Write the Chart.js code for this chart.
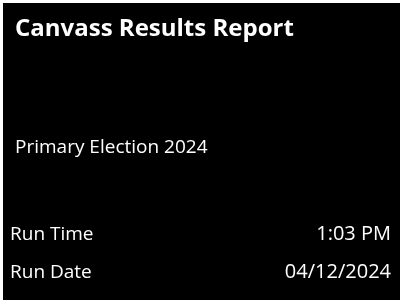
<!DOCTYPE html>
<html>
<head>
<meta charset="utf-8">
<script src="https://cdn.jsdelivr.net/npm/chart.js@4"></script>
<style>
  html, body { margin: 0; padding: 0; background: #fff; }
  #wrap { position: absolute; left: 3px; top: 3px; width: 397px; height: 297px; background: #000; }
</style>
</head>
<body>
<div id="wrap"><canvas id="report"></canvas></div>
<script>
// Report text
const reportTitle = "Canvass Results Report";
const electionName = "Primary Election 2024";
const rowLabels = ["Run Time", "Run Date"];
const rowValues = ["1:03 PM", "04/12/2024"];

const fontFamily = "'Open Sans', 'Noto Sans', sans-serif";

// Draws the election name and the run rows below the title
const reportText = {
    id: "reportText",
    afterDraw(chart) {
        const ctx = chart.ctx;
        const w = chart.width;
        ctx.save();
        ctx.fillStyle = "#fff";
        ctx.textBaseline = "alphabetic";

        ctx.font = "19px " + fontFamily;
        ctx.textAlign = "left";
        ctx.fillText(electionName, 12, 150);

        rowLabels.forEach((label, i) => {
            const y = 237 + i * 38;
            ctx.font = "19px " + fontFamily;
            ctx.textAlign = "left";
            ctx.fillText(label, 7, y);
            ctx.font = "20px " + fontFamily;
            ctx.textAlign = "right";
            ctx.fillText(rowValues[i], w - 9, y);
        });
        ctx.restore();
    }
};

new Chart(document.getElementById("report"), {
    type: "scatter",
    data: { datasets: [] },
    options: {
        responsive: true,
        maintainAspectRatio: false,
        animation: false,
        layout: { padding: { left: 12, top: 12 } },
        scales: { x: { display: false }, y: { display: false } },
        plugins: {
            legend: { display: false },
            tooltip: { enabled: false },
            title: {
                display: true,
                text: reportTitle,
                align: "start",
                color: "#fff",
                font: { family: fontFamily, size: 24, weight: "bold" },
                padding: 0
            }
        }
    },
    plugins: [reportText]
});
</script>
</body>
</html>
